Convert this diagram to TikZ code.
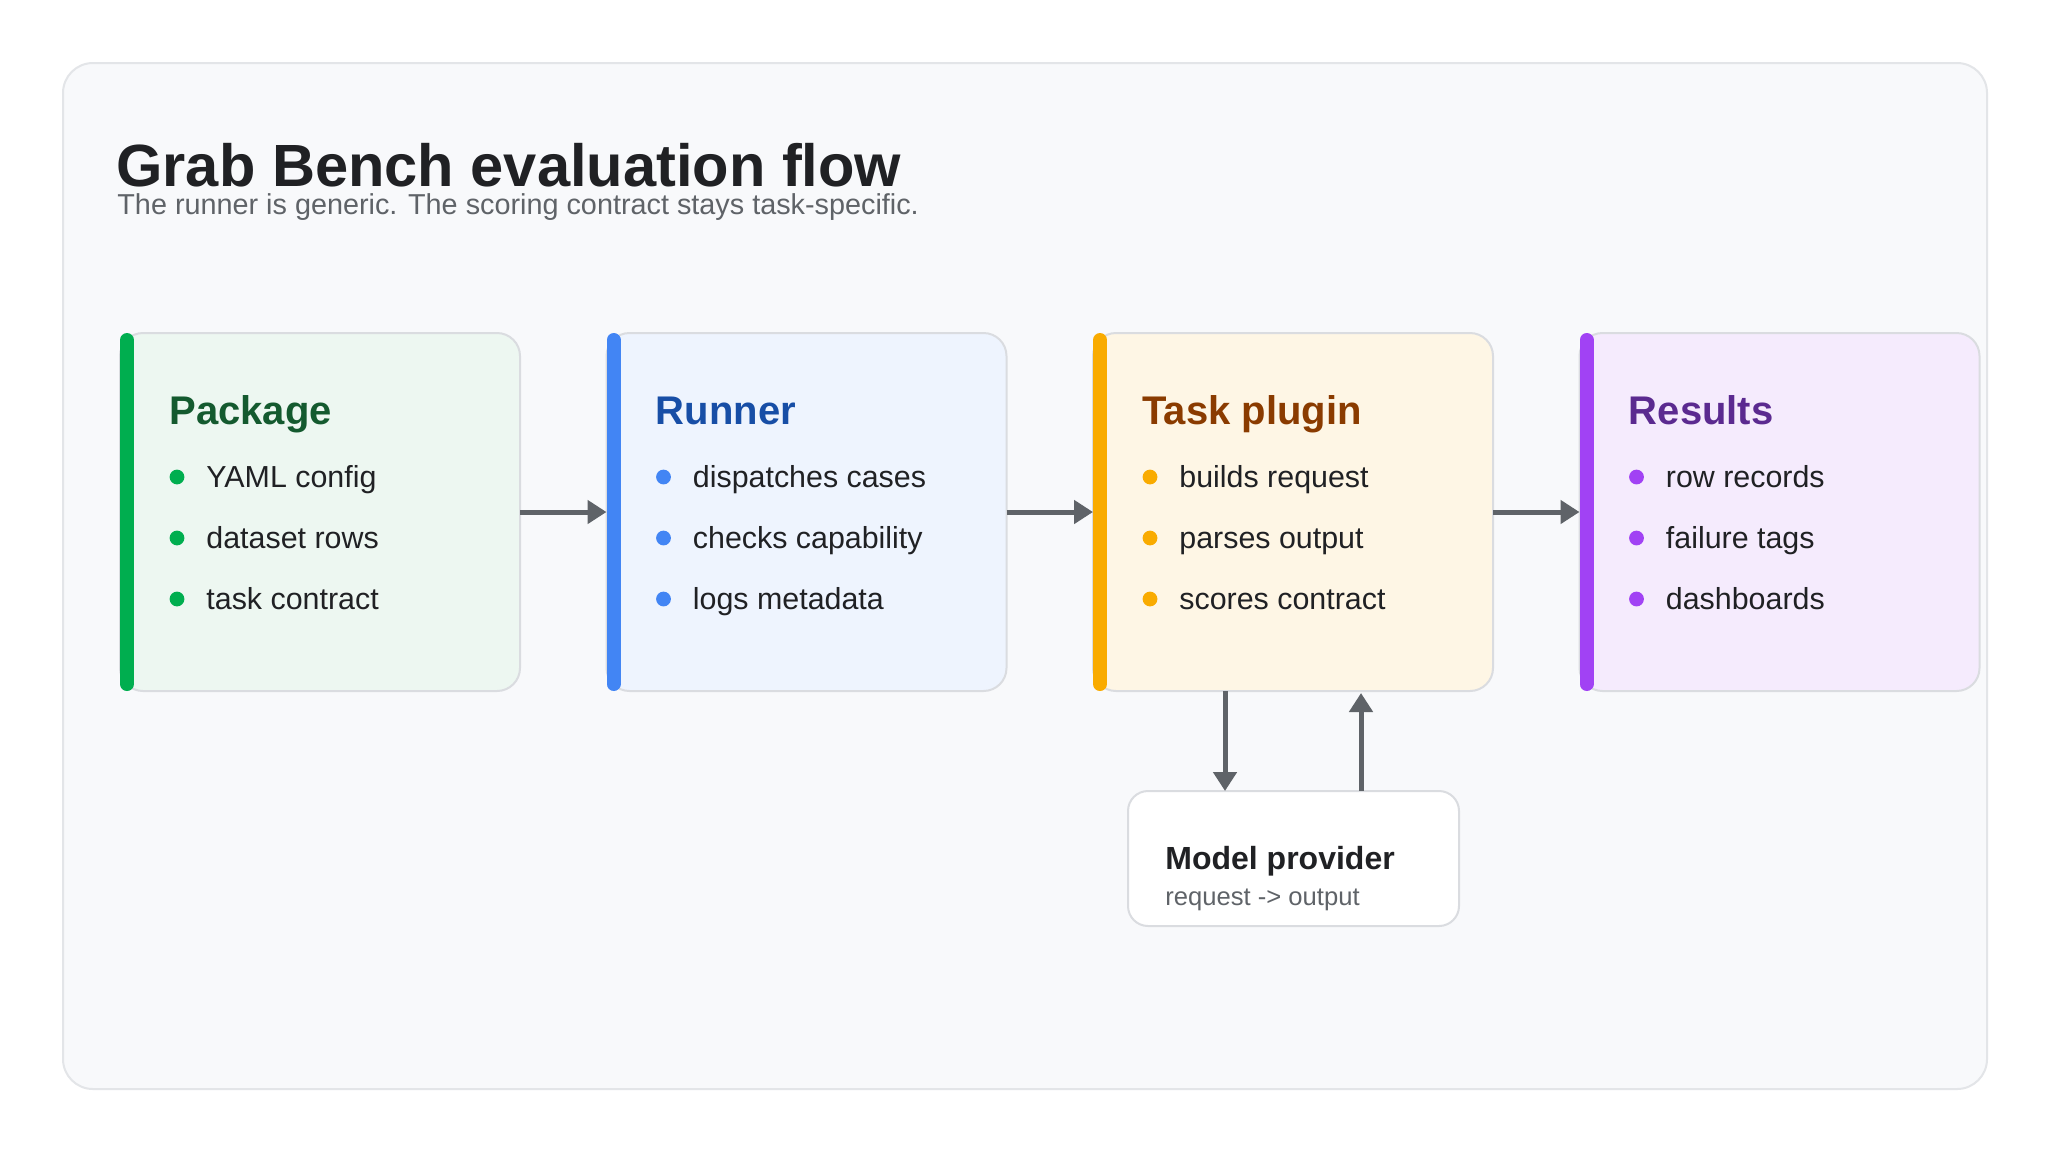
\documentclass[tikz,border=0pt]{standalone}
\usepackage{fontspec}
\setmainfont{Liberation Sans}
\usetikzlibrary{arrows.meta,calc}
\definecolor{inkmain}{HTML}{202124}
\definecolor{inksub}{HTML}{5F6368}
\definecolor{panelbg}{HTML}{F8F9FB}
\definecolor{panelline}{HTML}{E3E5E8}
\definecolor{cardline}{HTML}{DADCE0}
\definecolor{arrowc}{HTML}{5F6368}
\definecolor{pkgfill}{HTML}{EDF7F1}
\definecolor{pkgbar}{HTML}{00AE4F}
\definecolor{pkghead}{HTML}{145A2F}
\definecolor{runfill}{HTML}{EEF4FE}
\definecolor{runbar}{HTML}{4285F4}
\definecolor{runhead}{HTML}{174EA6}
\definecolor{taskfill}{HTML}{FEF6E5}
\definecolor{taskbar}{HTML}{F9AB00}
\definecolor{taskhead}{HTML}{8A3B00}
\definecolor{resfill}{HTML}{F5EBFD}
\definecolor{resbar}{HTML}{A142F4}
\definecolor{reshead}{HTML}{5B2A90}
\tikzset{
  card/.style={draw=cardline, line width=1pt, rounded corners=11.5pt,
    minimum width=200pt, minimum height=179pt, inner sep=0pt, outer sep=0pt, anchor=north west},
  sidebar/.style={line width=7pt, line cap=round},
  headtxt/.style={anchor=base west, inner sep=0pt, font=\bfseries\fontsize{20}{24}\selectfont},
  itemtxt/.style={anchor=base west, inner sep=0pt, text=inkmain, font=\fontsize{15.2}{18}\selectfont},
  arr/.style={draw=arrowc, line width=2.5pt, -{Triangle[length=9.5pt,width=11.5pt]}},
}
\newcommand\flowcard[7]{%
  \node[card, fill=#3fill] (#1) at (#2,333) {};
  \draw[sidebar, #3bar] ([xshift=3.5pt,yshift=-3.5pt]#1.north west) -- ([xshift=3.5pt,yshift=3.5pt]#1.south west);
  \node[headtxt, text=#3head] (#1-t) at (#2+49,424) {#4};
  \foreach \t [count=\i] in {#5,#6,#7} {
    \fill[#3bar] (#2+57,{477+61*(\i-1)}) circle[radius=3.7pt];
    \node[itemtxt] (#1-i\i) at (#2+86,{487+61*(\i-1)}) {\t};
  }
}
\begin{document}
\begin{tikzpicture}[x=0.5pt,y=-0.5pt]
\useasboundingbox (0,0) rectangle (2048,1152);
\fill[white] (0,0) rectangle (2048,1152);
\node[draw=panelline, fill=panelbg, line width=1pt, rounded corners=15pt,
  minimum width=962pt, minimum height=513pt, inner sep=0pt, outer sep=0pt] (panel) at (1025,576) {};
\node[anchor=base west, inner sep=0pt, text=inkmain, font=\bfseries\fontsize{29.8}{34}\selectfont] (title) at (116,186) {Grab Bench evaluation flow};
\node[anchor=base west, inner sep=0pt, text=inksub, font=\fontsize{14.4}{17}\selectfont] (subtitle) at (117,214) {The runner is generic. The scoring contract stays task-specific.};

\flowcard{pkg}{120}{pkg}{Package}{YAML config}{dataset rows}{task contract}
\flowcard{run}{606.5}{run}{Runner}{dispatches cases}{checks capability}{logs metadata}
\flowcard{task}{1093}{task}{Task plugin}{builds request}{parses output}{scores contract}
\flowcard{res}{1579.5}{res}{Results}{row records}{failure tags}{dashboards}

\draw[arr] (pkg.east) -- (run.west);
\draw[arr] (run.east) -- (task.west);
\draw[arr] (task.east) -- (res.west);

\node[draw=cardline, fill=white, line width=1pt, rounded corners=10pt,
  minimum width=165.5pt, minimum height=67.5pt, inner sep=0pt, outer sep=0pt, anchor=north west] (prov) at (1128,791) {};
\node[anchor=base west, inner sep=0pt, text=inkmain, font=\bfseries\fontsize{16}{19}\selectfont] (prov-t) at (1165,869) {Model provider};
\node[anchor=base west, inner sep=0pt, text=inksub, font=\fontsize{12.8}{15}\selectfont] (prov-s) at (1165,905) {request -> output};

\coordinate (dn) at (1225,0);
\coordinate (upc) at (1361,0);
\draw[arr] (task.south -| dn) -- (prov.north -| dn);
\draw[arr, shorten >=1pt] (prov.north -| upc) -- (task.south -| upc);
\end{tikzpicture}
\end{document}
